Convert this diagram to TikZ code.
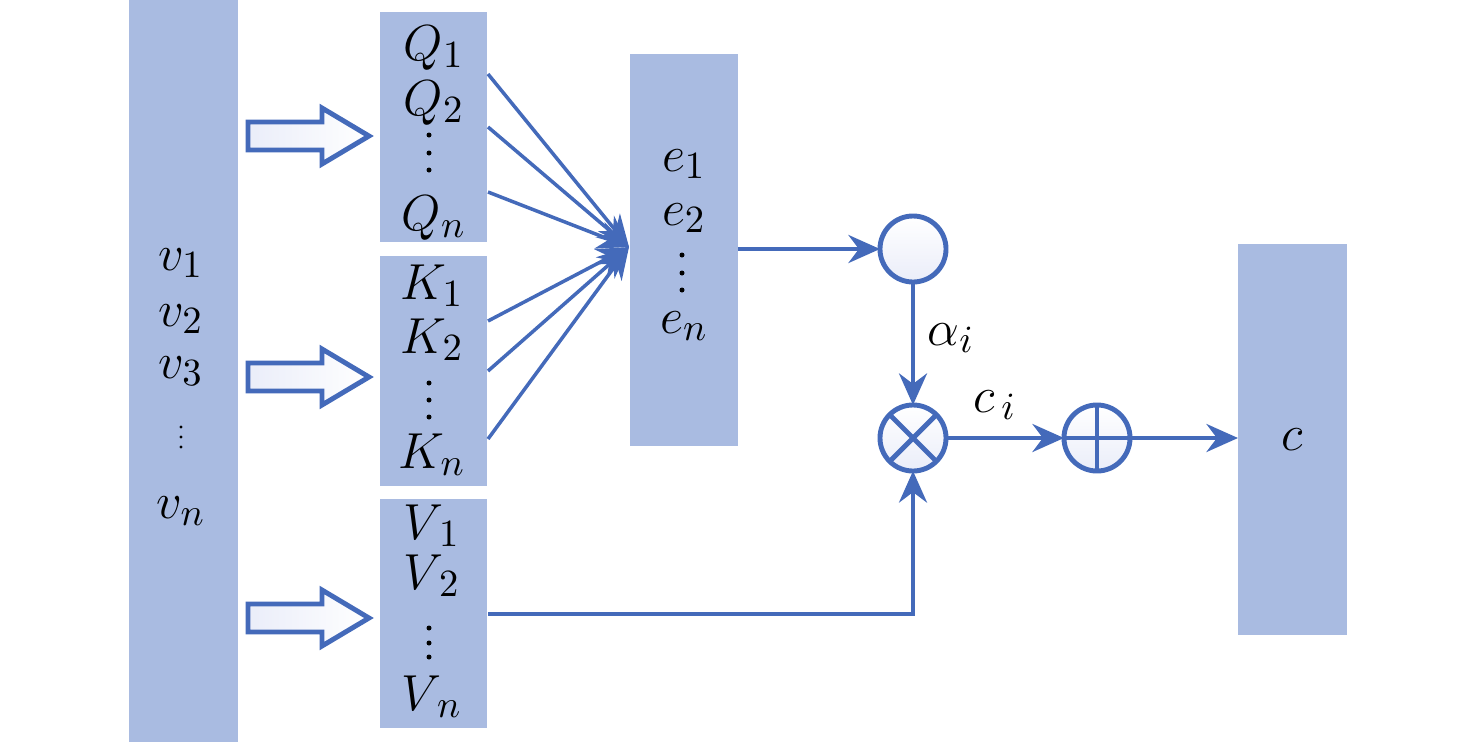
\documentclass[tikz,border=0pt]{standalone}
\usetikzlibrary{arrows.meta}
\definecolor{boxfill}{RGB}{169,187,225}
\definecolor{lineblue}{RGB}{68,106,186}
\definecolor{shadeblue}{RGB}{234,237,249}
\begin{document}
\begin{tikzpicture}[x=0.01cm,y=-0.01cm,
  font=\fontsize{15}{18}\selectfont,
  blk/.style={fill=boxfill, draw=none, inner sep=0, outer sep=0, anchor=north west},
  txt/.style={inner sep=0, anchor=base},
  conn/.style={draw=lineblue, line width=1pt, -{Stealth[length=9pt,width=8pt,inset=3pt]}},
  op/.style={circle, draw=lineblue, line width=1.4pt, top color=white, bottom color=shadeblue, minimum size=6.6mm, inner sep=0, outer sep=0},
  hollow/.style={draw=lineblue, line width=1.4pt, line join=miter, left color=shadeblue, right color=white},
  dot/.style={fill=black}]
\useasboundingbox (0,0) rectangle (1476,742);

% ---- boxes
\node[blk, minimum width=1.09cm, minimum height=7.42cm] (vbox) at (129,0) {};
\node[blk, minimum width=1.07cm, minimum height=2.30cm] (qbox) at (380,12) {};
\node[blk, minimum width=1.07cm, minimum height=2.30cm] (kbox) at (380,256) {};
\node[blk, minimum width=1.07cm, minimum height=2.29cm] (vvbox) at (380,499) {};
\node[blk, minimum width=1.08cm, minimum height=3.92cm] (ebox) at (630,54) {};
\node[blk, minimum width=1.09cm, minimum height=3.91cm] (cbox) at (1238,244) {};

% ---- v labels
\node[txt] (v1) at (181,270) {$v_1$};
\node[txt] (v2) at (181,326) {$v_2$};
\node[txt] (v3) at (181,378) {$v_3$};
\fill[dot] (181,427) circle (1.6) (181,437) circle (1.6) (181,447) circle (1.6);
\node[txt] (vn) at (181,518) {$v_n$};

% ---- Q labels
\node[txt] (q1l) at (434,60) {$Q_1$};
\node[txt] (q2l) at (434,115) {$Q_2$};
\fill[dot] (429,135) circle (2.5) (429,153) circle (2.5) (429,170) circle (2.5);
\node[txt] (qnl) at (434,230) {$Q_n$};

% ---- K labels
\node[txt] (k1l) at (432,299) {$K_1$};
\node[txt] (k2l) at (432,353) {$K_2$};
\fill[dot] (429,383) circle (2.5) (429,400) circle (2.5) (429,417) circle (2.5);
\node[txt] (knl) at (432,468) {$K_n$};

% ---- V labels
\node[txt] (vv1) at (432,539) {$V_{\,1}$};
\node[txt] (vv2) at (432,589) {$V_{\,2}$};
\fill[dot] (429,628) circle (2.5) (429,643) circle (2.5) (429,657) circle (2.5);
\node[txt] (vvn) at (432,710) {$V_{\,n}$};

% ---- e labels
\node[txt] (e1) at (684,171) {$e_1$};
\node[txt] (e2) at (684,225) {$e_2$};
\fill[dot] (682,255) circle (2.5) (682,273) circle (2.5) (682,290) circle (2.5);
\node[txt] (en) at (684,333) {$e_n$};

% ---- c label
\node[txt] (cl) at (1292,450) {$c$};

% ---- hollow arrows
\draw[hollow] (248,122) -- (322,122) -- (322,108) -- (369,136) -- (322,164) -- (322,150) -- (248,150) -- cycle;
\draw[hollow] (248,363) -- (322,363) -- (322,349) -- (369,377) -- (322,405) -- (322,391) -- (248,391) -- cycle;
\draw[hollow] (248,604) -- (322,604) -- (322,590) -- (369,618) -- (322,646) -- (322,632) -- (248,632) -- cycle;

% ---- operators
\node[op] (sm) at (913,249) {};
\node[op] (ot) at (913,438) {};
\node[op] (pl) at (1097,438) {};
\draw[lineblue, line width=1.4pt] (ot.north west) -- (ot.south east) (ot.north east) -- (ot.south west);
\draw[lineblue, line width=1.4pt] (pl.north) -- (pl.south) (pl.west) -- (pl.east);

% ---- fan connectors
\coordinate (q1) at (488,74);
\coordinate (q2) at (488,127);
\coordinate (qn) at (488,192);
\coordinate (k1) at (488,321);
\coordinate (k2) at (488,371);
\coordinate (kn) at (488,439);
\coordinate (fan) at (629,247);
\foreach \s in {q1,q2,qn,k1,k2,kn} \draw[conn] (\s) -- (fan);

% ---- other connectors
\draw[conn] (ebox.east |- sm) -- (sm.west);
\draw[conn] (sm.south) -- (ot.north);
\node[txt, anchor=base west] (al) at (927,345) {$\alpha_i$};
\coordinate (vout) at (488,614);
\draw[conn] (vout) -| (ot.south);
\draw[conn] (ot.east) -- (pl.west);
\node[txt, anchor=base west] (cil) at (973,412) {$c_{\,i}$};
\draw[conn] (pl.east) -- (pl.east -| cbox.west);
\end{tikzpicture}
\end{document}
